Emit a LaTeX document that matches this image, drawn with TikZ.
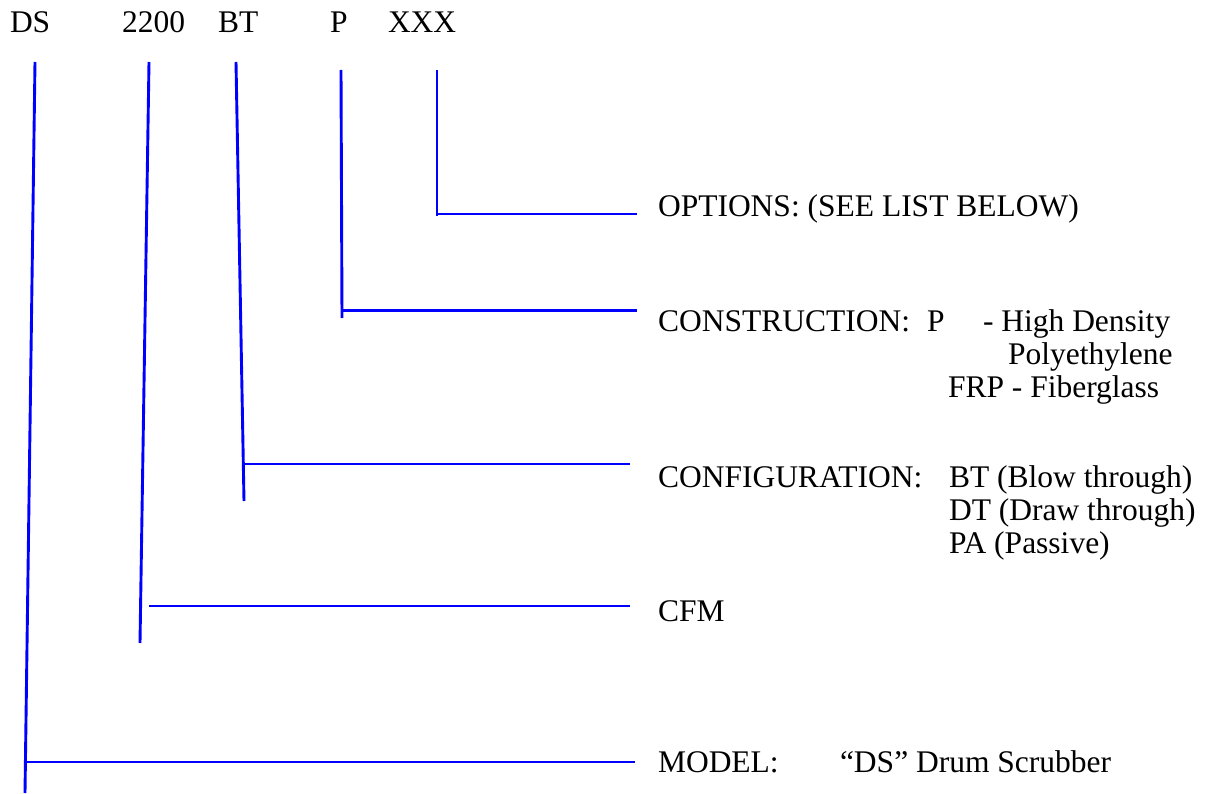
\documentclass[tikz,border=0pt]{standalone}
\usepackage{fontspec}
\setmainfont{Liberation Serif}
\definecolor{lineblue}{RGB}{0,0,255}
\begin{document}
\begin{tikzpicture}[x=1pt,y=-1pt,
  txt/.style={anchor=base west,inner sep=0pt,outer sep=0pt,font=\fontsize{31.5}{33}\selectfont},
  lead/.style={draw=lineblue,line width=2.9pt}]
\useasboundingbox (0,0) rectangle (1209,794);
% top code
\node[txt] (cDS) at (10,33) {DS};
\node[txt] (cCFM) at (122,33) {2200};
\node[txt] (cBT) at (218,33) {BT};
\node[txt] (cP) at (330,33) {P};
\node[txt] (cX) at (388,33) {XXX};
% labels
\node[txt] (lOpt) at (658,217) {OPTIONS: (SEE LIST BELOW)};
\node[txt] (lCon) at (658,331) {CONSTRUCTION:};
\node[txt] (lConP) at (927,331) {P};
\node[txt] (lConA) at (983,331) {- High Density};
\node[txt] (lConB) at (1008,364) {Polyethylene};
\node[txt] (lConC) at (948,397) {FRP - Fiberglass};
\node[txt] (lCfg) at (658,487) {CONFIGURATION:};
\node[txt] (lCfgA) at (949,487) {BT (Blow through)};
\node[txt] (lCfgB) at (949,520) {DT (Draw through)};
\node[txt] (lCfgC) at (949,553) {PA (Passive)};
\node[txt] (lCfm) at (658,621) {CFM};
\node[txt] (lMod) at (658,772) {MODEL:};
\node[txt] (lModA) at (840,772) {``DS'' Drum Scrubber};
% leader coordinates
\coordinate (dsT) at (35,62);   \coordinate (dsB) at (25,793);
\coordinate (dsH) at (25.4,762); \coordinate (dsE) at (635,762);
\coordinate (nT) at (149,62);   \coordinate (nB) at (140,643);
\coordinate (nH) at (149,606);  \coordinate (nE) at (630,606);
\coordinate (bT) at (236,62);   \coordinate (bB) at (244,501);
\coordinate (bH) at (243.5,464);  \coordinate (bE) at (630,464);
\coordinate (pT) at (341,70);   \coordinate (pB) at (342,318);
\coordinate (pH) at (342,310.5);  \coordinate (pE) at (637,310.5);
\coordinate (xT) at (437,70);   \coordinate (xB) at (437,216);
\coordinate (xH) at (437,214);  \coordinate (xE) at (637,214);
\draw[lead] (dsT) -- (dsB);
\draw[lead] (dsH) -- (dsE);
\draw[lead] (nT) -- (nB);
\draw[lead] (nH) -- (nE);
\draw[lead] (bT) -- (bB);
\draw[lead] (bH) -- (bE);
\draw[lead] (pT) -- (pB);
\draw[lead] (pH) -- (pE);
\draw[lead] (xT) -- (xB);
\draw[lead] (xH) -- (xE);
\end{tikzpicture}
\end{document}
